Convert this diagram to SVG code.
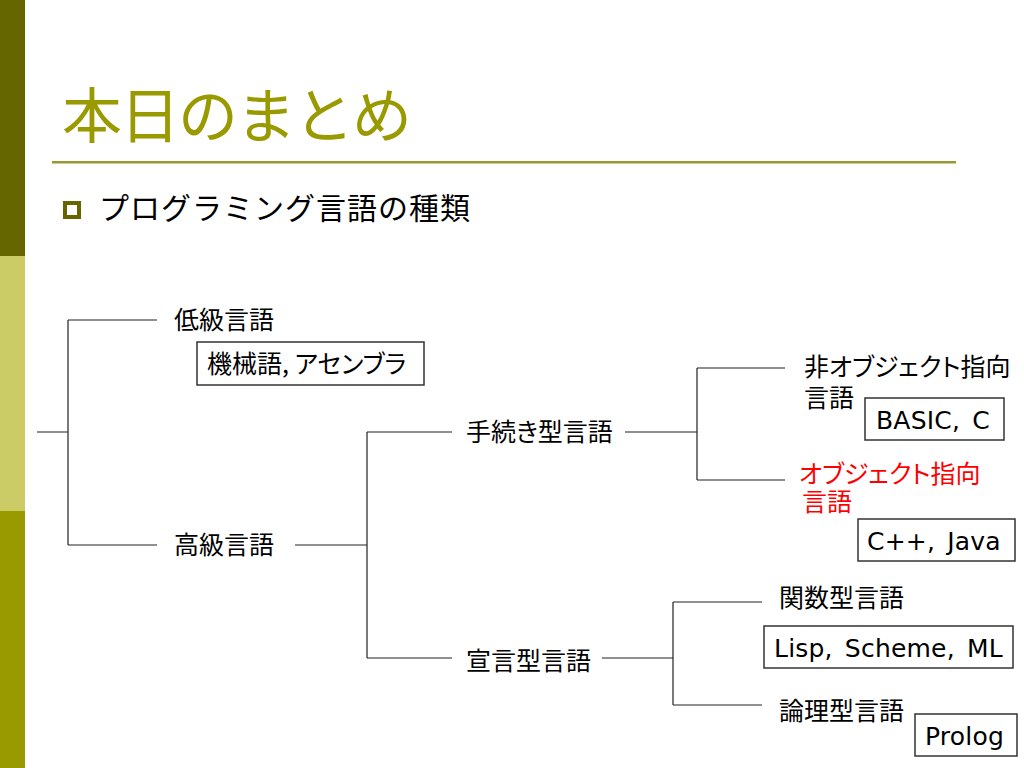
<svg xmlns="http://www.w3.org/2000/svg" width="1024" height="768" viewBox="0 0 1024 768">
<style>
.jp{font-family:"Noto Sans CJK JP","Noto Sans",sans-serif;font-size:25px;fill:#000;font-feature-settings:"palt"}
.red{fill:#ff0000}
.lat{font-family:"DejaVu Sans","Noto Sans CJK JP",sans-serif;font-size:25px;fill:#000;letter-spacing:0.2px;word-spacing:4px}
.box{fill:#fff;stroke:#333;stroke-width:1.5}
.ln{stroke:#222;stroke-width:1.2;fill:none}
</style>
<rect width="1024" height="768" fill="#fff"/>
<g id="sidebar">
<rect x="0" y="0" width="25" height="256" fill="#666600"/>
<rect x="0" y="256" width="25" height="255" fill="#cccc66"/>
<rect x="0" y="511" width="25" height="257" fill="#999900"/>
</g>
<g id="title">
<text x="62" y="138" font-family="'Noto Sans CJK JP',sans-serif" font-size="60" letter-spacing="-2" fill="#999900">本日のまとめ</text>
<rect x="52" y="161" width="904" height="2.5" fill="#999933"/>
</g>
<g id="bullet">
<rect x="65" y="203" width="14" height="14" fill="#fff" stroke="#666600" stroke-width="4"/>
<text x="99" y="219" font-family="'Noto Sans CJK JP',sans-serif" font-size="30" letter-spacing="1" fill="#000">プログラミング言語の種類</text>
</g>
<g id="connectors">
<path class="ln" d="M37 432H68M68 320V545M68 320H157M68 545H157"/>
<path class="ln" d="M295 545H367M367 432V658M367 432H452M367 658H452"/>
<path class="ln" d="M625 432H697M697 368V480M697 368H785M697 480H785"/>
<path class="ln" d="M602 658H673M673 602V705M673 602H762M673 705H762"/>
</g>
<g id="n-low">
<text class="jp" x="174" y="329">低級言語</text>
</g>
<g id="n-low-ex">
<rect class="box" x="197" y="342" width="227" height="43"/>
<text class="jp" x="207" y="373">機械語, アセンブラ</text>
</g>
<g id="n-high">
<text class="jp" x="174" y="554">高級言語</text>
</g>
<g id="n-proc">
<text class="jp" x="466" y="441">手続き型言語</text>
</g>
<g id="n-decl">
<text class="jp" x="466" y="670">宣言型言語</text>
</g>
<g id="n-nonoo">
<text class="jp" x="804" y="376">非オブジェクト指向<tspan x="804" y="407">言語</tspan></text>
</g>
<g id="n-nonoo-ex">
<rect class="box" x="865" y="398" width="139" height="42"/>
<text class="lat" x="876" y="429">BASIC, C</text>
</g>
<g id="n-oo">
<text class="jp red" x="799" y="483">オブジェクト指向<tspan x="802" y="511">言語</tspan></text>
</g>
<g id="n-oo-ex">
<rect class="box" x="858" y="519" width="157" height="42"/>
<text class="lat" x="867" y="550">C++, Java</text>
</g>
<g id="n-func">
<text class="jp" x="779" y="607">関数型言語</text>
</g>
<g id="n-func-ex">
<rect class="box" x="764" y="626" width="249" height="42"/>
<text class="lat" x="774" y="657">Lisp, Scheme, ML</text>
</g>
<g id="n-logic">
<text class="jp" x="779" y="720">論理型言語</text>
</g>
<g id="n-logic-ex">
<rect class="box" x="915" y="714" width="102" height="42"/>
<text class="lat" x="925" y="745">Prolog</text>
</g>
</svg>
